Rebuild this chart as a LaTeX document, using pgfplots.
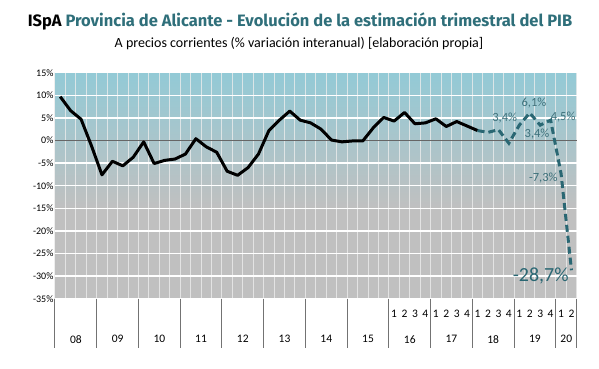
\documentclass[border=0pt]{standalone}
\usepackage{pgfplots}
\pgfplotsset{compat=1.18}
\usepackage{fontspec}
\setmainfont{Carlito}
\newfontfamily\titlefont{Fira Sans}
\definecolor{bgblue}{HTML}{93CAD6}
\definecolor{bggray}{HTML}{C0C0C0}
\definecolor{teal1}{HTML}{2F6F7A}
\definecolor{labcol}{HTML}{3E717B}
\definecolor{dashcol}{HTML}{2A6773}
\pgfdeclareverticalshading{plotbg}{100bp}{color(0bp)=(bggray); color(25bp)=(bggray); color(45bp)=(bggray); color(75bp)=(bgblue); color(100bp)=(bgblue)}
\begin{document}
\begin{tikzpicture}[x=1pt,y=1pt]
\path[use as bounding box] (0,0) rectangle (599,368);
\node[font=\titlefont\bfseries\fontsize{16.5}{19}\selectfont, anchor=center] at (300,347) {ISpA \textcolor{teal1}{Provincia de Alicante - Evolución de la estimación trimestral del PIB}};
\node[font=\fontsize{14}{16}\selectfont, anchor=center] at (299,324) {A precios corrientes (\% variación interanual) [elaboración propia]};
\begin{axis}[
  at={(55pt,69.3pt)}, anchor=south west,
  scale only axis, width=521.7pt, height=226pt,
  xmin=-0.5, xmax=49.5, ymin=-35, ymax=15,
  axis background/.style={shading=plotbg},
  axis line style={draw=none},
  tick style={draw=none},
  ytick={-35,-30,...,15},
  yticklabels={-35\%,-30\%,-25\%,-20\%,-15\%,-10\%,-5\%,0\%,5\%,10\%,15\%},
  yticklabel style={font=\fontsize{10}{12}\selectfont, xshift=2pt},
  ymajorgrids, major grid style={white, line width=1.3pt},
  xtick={1.5,5.5,9.5,13.5,17.5,21.5,25.5,29.5,33.5,37.5,41.5,45.5,48.5},
  xticklabels={08,09,10,11,12,13,14,15,16,17,18,19,20},
  xticklabel style={font=\fontsize{11.5}{13}\selectfont, yshift=-33pt},
  extra x ticks={32,33,34,35,36,37,38,39,40,41,42,43,44,45,46,47,48,49},
  extra x tick labels={1,2,3,4,1,2,3,4,1,2,3,4,1,2,3,4,1,2},
  extra x tick style={grid=none, tick label style={font=\fontsize{11}{13}\selectfont, yshift=25pt}},
  minor xtick={-0.5,0.5,...,49.5},
  xminorgrids, minor grid style={draw=white!85!gray, opacity=0.8, line width=1pt},
  clip=false,
  /pgf/number format/assume math mode=true,
]
\draw[color=black!60, line width=1pt] (axis cs:-0.5,0) -- (axis cs:49.5,0);
\pgfplotsinvokeforeach{-0.5,3.5,...,47.5}{\draw[black!55, line width=1pt] (axis cs:#1,-35) -- (axis cs:#1,-45.9);}
\draw[black!55, line width=1pt] (axis cs:49.5,-35) -- (axis cs:49.5,-45.9);
\addplot[black, line width=3pt, line join=round] coordinates {
(0,9.7)(1,6.6)(2,4.7)(3,-1.2)(4,-7.6)(5,-4.6)(6,-5.6)(7,-3.7)(8,-0.3)(9,-5.1)
(10,-4.4)(11,-4.1)(12,-3.0)(13,0.4)(14,-1.4)(15,-2.6)(16,-6.8)(17,-7.7)(18,-6.0)(19,-3.0)
(20,2.2)(21,4.5)(22,6.5)(23,4.5)(24,3.9)(25,2.5)(26,0.1)(27,-0.3)(28,-0.1)(29,-0.1)
(30,2.8)(31,5.1)(32,4.3)(33,6.2)(34,3.7)(35,3.9)(36,4.8)(37,3.1)(38,4.2)(39,3.2)(40,2.2)};
\addplot[dashcol, line width=3pt, dash pattern=on 7pt off 4pt] coordinates {
(40,2.2)(41,1.8)(42,2.4)(43,-0.6)(44,3.4)(45,6.1)(46,3.4)(47,4.5)(48,-7.3)(49,-28.7)};
\node[labcol, font=\fontsize{12.5}{14}\selectfont] at (axis cs:42.6,5.0) {3,4\%};
\node[labcol, font=\fontsize{12.5}{14}\selectfont] at (axis cs:45.4,8.2) {6,1\%};
\node[labcol, font=\fontsize{12.5}{14}\selectfont] at (axis cs:45.7,1.4) {3,4\%};
\node[labcol, font=\fontsize{12.5}{14}\selectfont] at (axis cs:48.2,5.1) {4,5\%};
\node[labcol, font=\fontsize{12.5}{14}\selectfont] at (axis cs:46.3,-8.4) {-7,3\%};
\node[dashcol, font=\fontsize{20}{22}\selectfont] at (axis cs:46.05,-30.0) {-28,7\%};
\end{axis}
\end{tikzpicture}
\end{document}
